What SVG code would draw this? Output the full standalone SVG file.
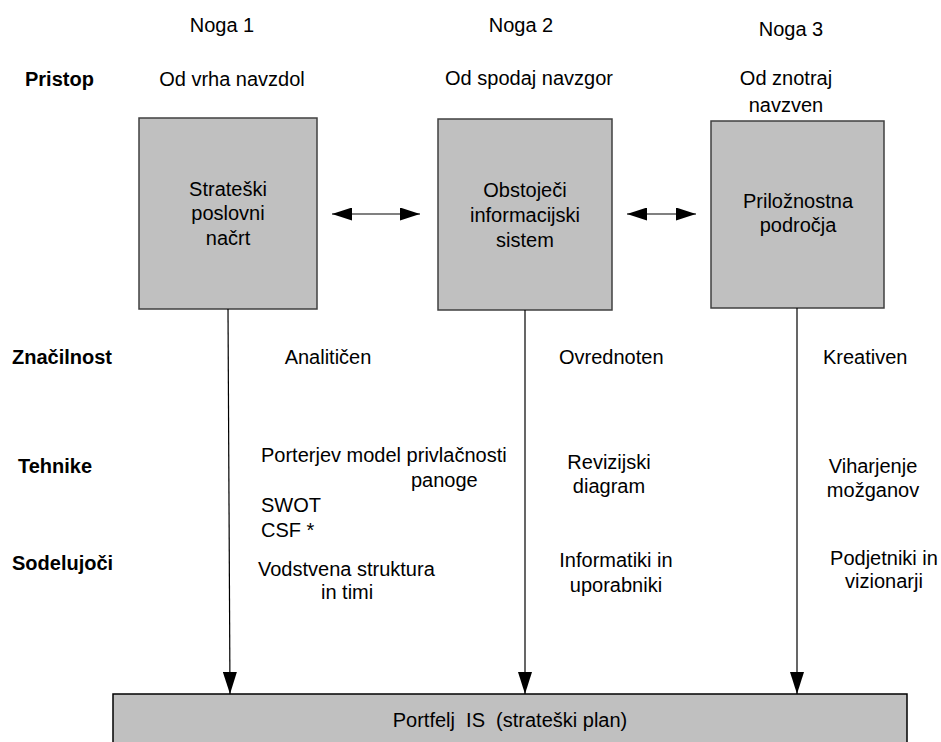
<svg xmlns="http://www.w3.org/2000/svg" width="941" height="742" viewBox="0 0 941 742">
<style>
text{font-family:"Liberation Sans",Arial,sans-serif;font-size:20px;fill:#000}
.b{font-weight:bold}
.c{text-anchor:middle}
.box{fill:#c0c0c0;stroke:#404040;stroke-width:1.5}
.v{stroke:#000;stroke-width:1.2;fill:none}
.h{stroke:#808080;stroke-width:2;fill:none}
</style>
<defs>
<marker id="av" markerUnits="userSpaceOnUse" viewBox="0 0 22 14" markerWidth="22" markerHeight="14" refX="22" refY="7" orient="auto">
<path d="M0,0 L22,7 L0,14 z" fill="#000"/>
</marker>
<marker id="ah" markerUnits="userSpaceOnUse" viewBox="0 0 20 13" markerWidth="20" markerHeight="13" refX="20" refY="6.5" orient="auto-start-reverse">
<path d="M0,0 L20,6.5 L0,13 z" fill="#000"/>
</marker>
</defs>
<rect width="941" height="742" fill="#fff"/>

<g id="headers">
<text class="c" x="222" y="32">Noga 1</text>
<text class="c" x="521" y="32">Noga 2</text>
<text class="c" x="791" y="36">Noga 3</text>
</g>

<g id="row-labels">
<text class="b" x="25" y="86">Pristop</text>
<text class="b" x="12" y="364">Značilnost</text>
<text class="b" x="18" y="473">Tehnike</text>
<text class="b" x="12" y="570">Sodelujoči</text>
</g>

<g id="col1-texts">
<text class="c" x="232" y="86">Od vrha navzdol</text>
<text class="c" x="328" y="364">Analitičen</text>
<text x="261" y="462">Porterjev model privlačnosti</text>
<text x="411" y="487">panoge</text>
<text x="261" y="512">SWOT</text>
<text x="261" y="537">CSF *</text>
<text x="258" y="576">Vodstvena struktura</text>
<text x="321" y="599">in timi</text>
</g>

<g id="col2-texts">
<text class="c" x="529" y="85">Od spodaj navzgor</text>
<text x="559" y="364">Ovrednoten</text>
<text class="c" x="609" y="469">Revizijski</text>
<text class="c" x="609" y="493">diagram</text>
<text class="c" x="616" y="567">Informatiki in</text>
<text class="c" x="616" y="592">uporabniki</text>
</g>

<g id="col3-texts">
<text class="c" x="786" y="85">Od znotraj</text>
<text class="c" x="786" y="112">navzven</text>
<text x="823" y="364">Kreativen</text>
<text class="c" x="873" y="473">Viharjenje</text>
<text class="c" x="873" y="497">možganov</text>
<text class="c" x="884" y="565">Podjetniki in</text>
<text class="c" x="884" y="588">vizionarji</text>
</g>

<g id="node-strateski">
<rect class="box" x="139" y="118" width="178" height="191"/>
<text class="c" x="228" y="196">Strateški</text>
<text class="c" x="228" y="220">poslovni</text>
<text class="c" x="228" y="245">načrt</text>
</g>

<g id="node-obstojeci">
<rect class="box" x="438" y="119" width="174" height="191"/>
<text class="c" x="525" y="197">Obstoječi</text>
<text class="c" x="525" y="222">informacijski</text>
<text class="c" x="525" y="247">sistem</text>
</g>

<g id="node-priloznostna">
<rect class="box" x="711" y="121" width="173" height="187"/>
<text class="c" x="798" y="208">Priložnostna</text>
<text class="c" x="798" y="232">področja</text>
</g>

<g id="node-portfelj">
<rect class="box" x="113" y="694" width="794" height="60" style="stroke:#000"/>
<text class="c" x="510" y="727" style="white-space:pre">Portfelj  IS  (strateški plan)</text>
</g>

<g id="connectors">
<line class="h" x1="332" y1="214" x2="420" y2="214" marker-start="url(#ah)" marker-end="url(#ah)"/>
<line class="h" x1="627" y1="214" x2="696" y2="214" marker-start="url(#ah)" marker-end="url(#ah)"/>
<line class="v" x1="228" y1="309" x2="230" y2="694" marker-end="url(#av)"/>
<line class="v" x1="525" y1="310" x2="525" y2="694" marker-end="url(#av)"/>
<line class="v" x1="797" y1="308" x2="797" y2="694" marker-end="url(#av)"/>
</g>
</svg>
